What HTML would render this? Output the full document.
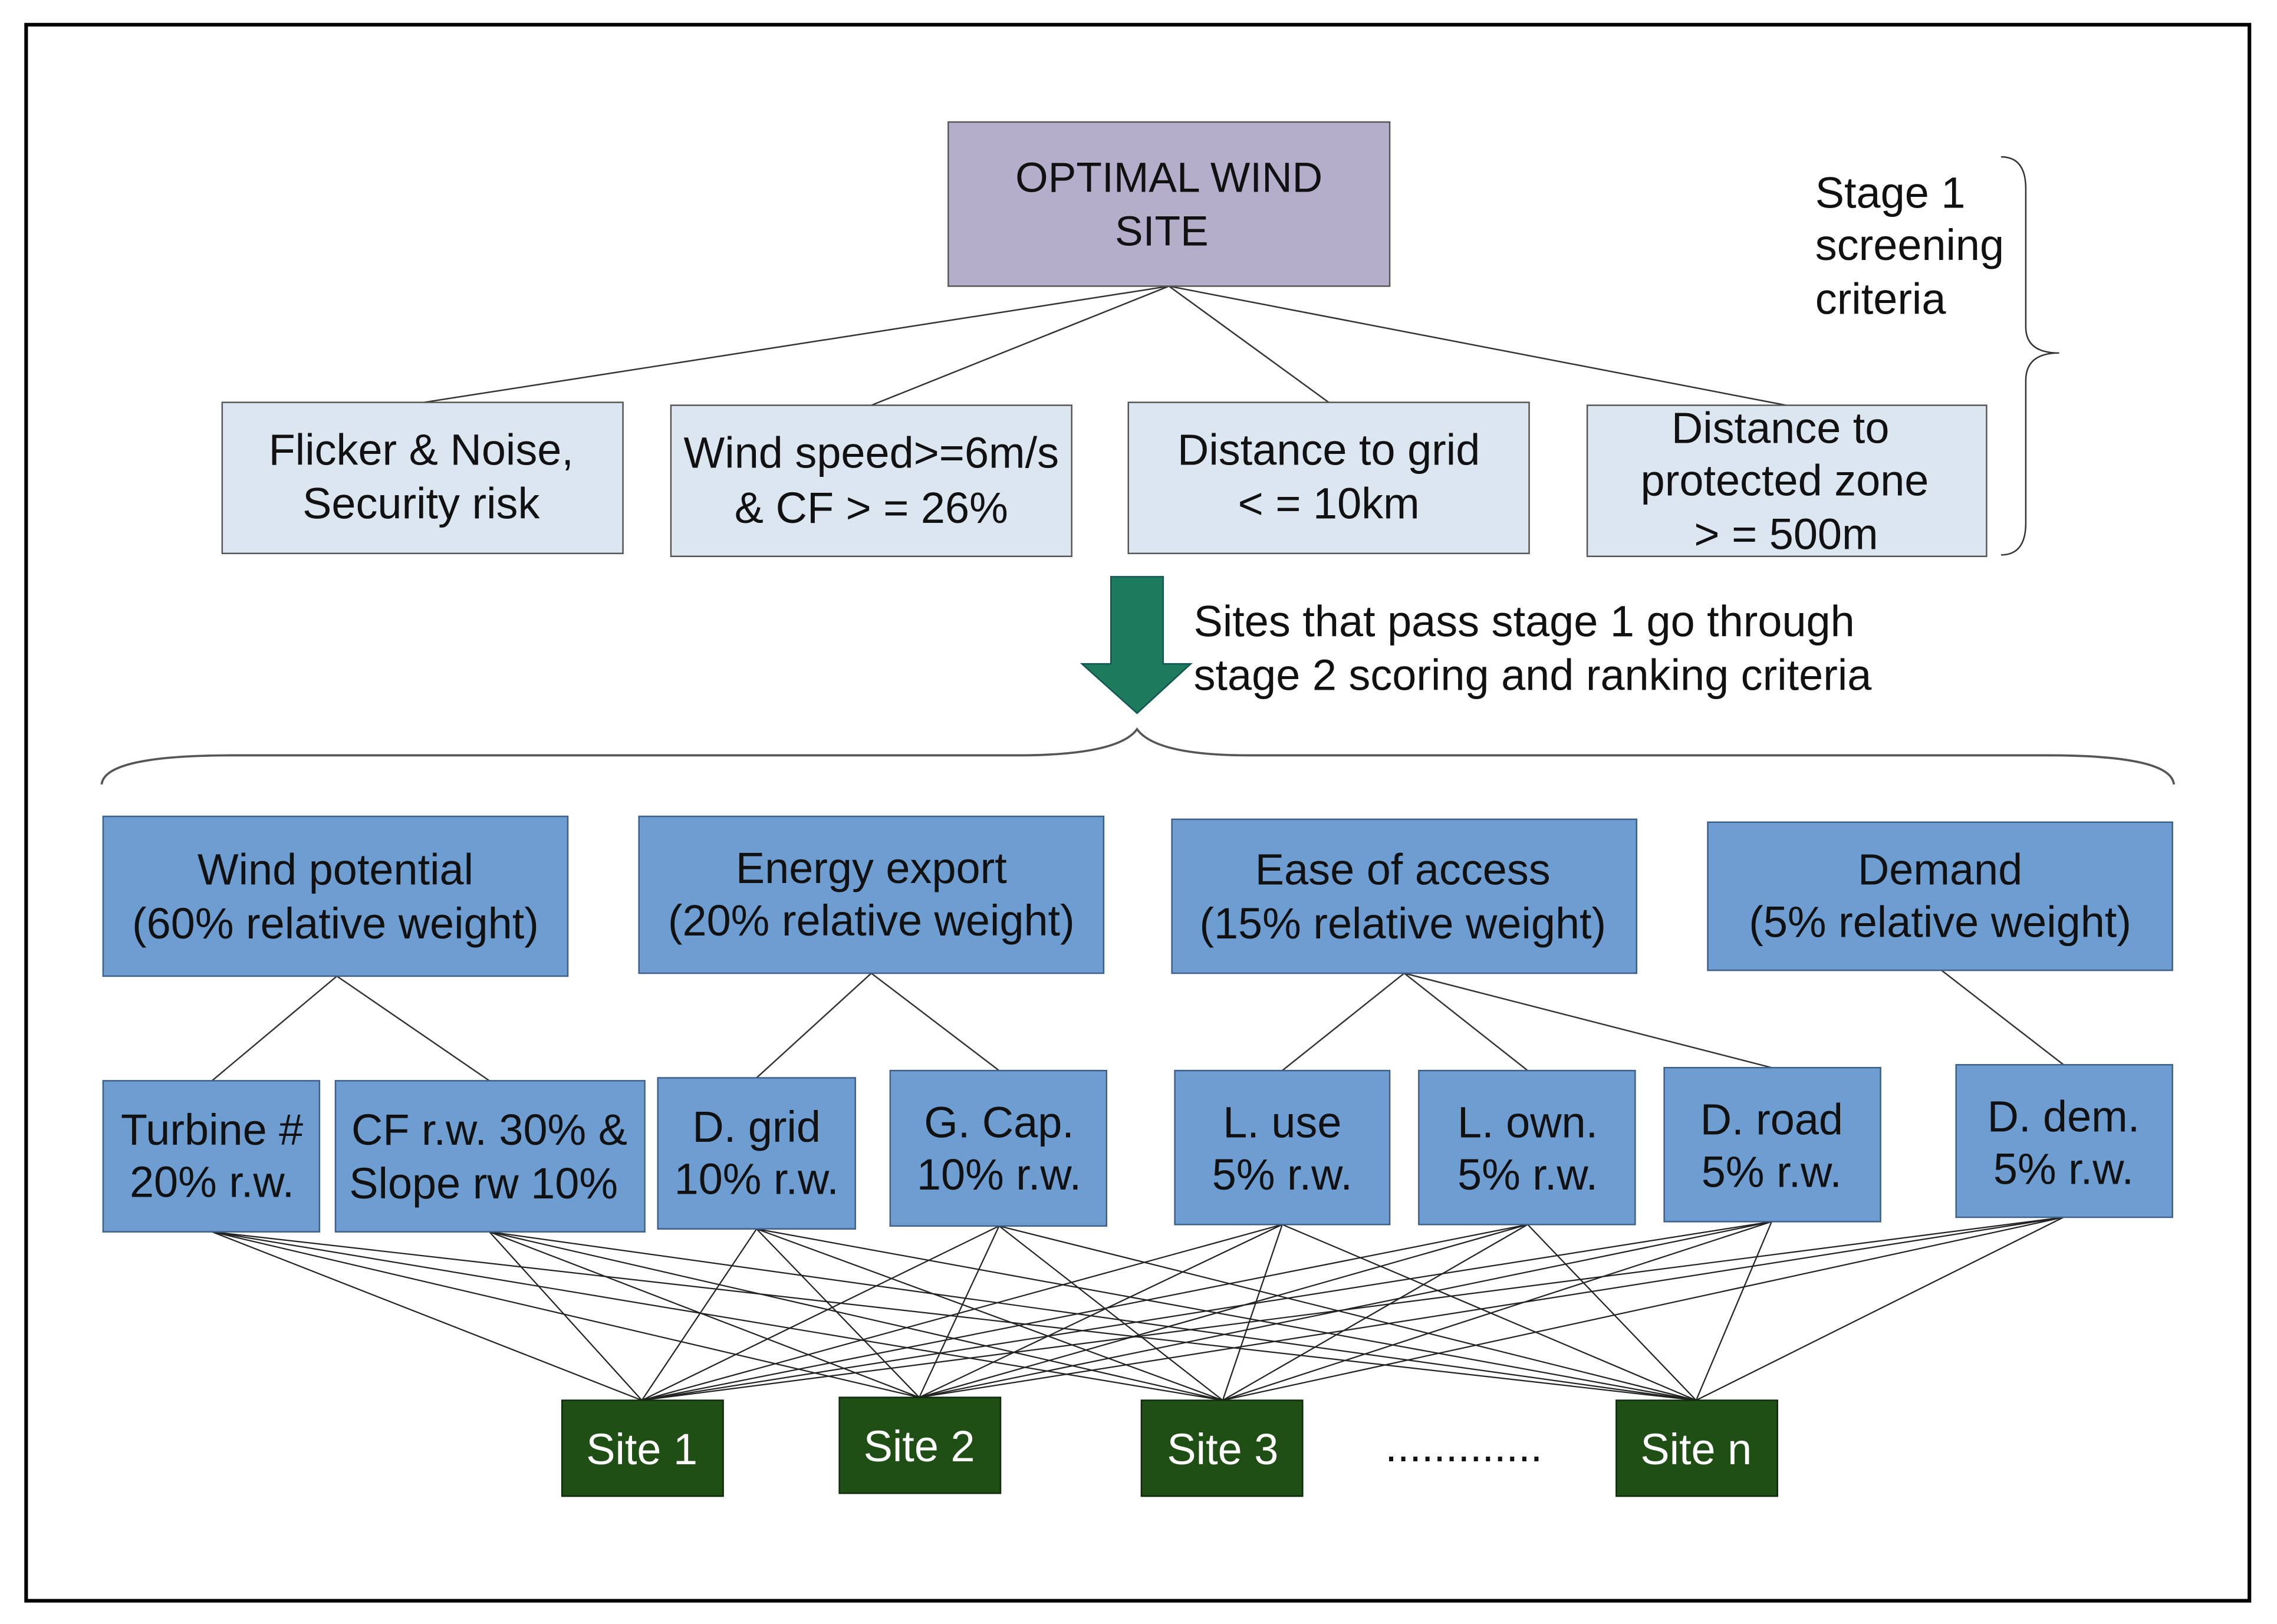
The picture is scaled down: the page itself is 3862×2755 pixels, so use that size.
<!DOCTYPE html>
<html><head><style>html,body{margin:0;padding:0;background:#fff}svg{display:block}text{font-family:"Liberation Sans",Arial,sans-serif}</style></head>
<body>
<svg width="3862" height="2755" viewBox="0 0 1568 1118" preserveAspectRatio="none" xmlns="http://www.w3.org/2000/svg">
<rect x="0" y="0" width="1568" height="1118" fill="#fff"/>
<rect x="18" y="17" width="1531" height="1085" fill="none" stroke="#000" stroke-width="2.5"/>
<g stroke="#333" stroke-width="1" fill="none">
<line x1="805" y1="197" x2="292" y2="277"/>
<line x1="805" y1="197" x2="600" y2="279"/>
<line x1="805" y1="197" x2="915" y2="277"/>
<line x1="805" y1="197" x2="1230" y2="279"/>
<line x1="232" y1="672" x2="146" y2="744"/>
<line x1="232" y1="672" x2="337" y2="744"/>
<line x1="600" y1="670" x2="521" y2="742"/>
<line x1="600" y1="670" x2="688" y2="737"/>
<line x1="967" y1="670" x2="883" y2="737"/>
<line x1="967" y1="670" x2="1052" y2="737"/>
<line x1="967" y1="670" x2="1220" y2="735"/>
<line x1="1337" y1="668" x2="1421" y2="733"/>
<path d="M1378 108 Q1395 108 1395 130 L1395 225 Q1395 243 1418 243 Q1395 243 1395 262 L1395 360 Q1395 382 1378 382"/>
<path d="M70 540 Q72 520 160 520 L700 520 Q770 520 783 502 Q796 520 860 520 L1410 520 Q1495 520 1497 540" stroke="#555" stroke-width="1.5"/>
</g>
<g stroke="#222" stroke-width="0.9">
<line x1="146" y1="848" x2="442" y2="964"/><line x1="146" y1="848" x2="633" y2="962"/><line x1="146" y1="848" x2="842" y2="964"/><line x1="146" y1="848" x2="1168" y2="964"/>
<line x1="337" y1="848" x2="442" y2="964"/><line x1="337" y1="848" x2="633" y2="962"/><line x1="337" y1="848" x2="842" y2="964"/><line x1="337" y1="848" x2="1168" y2="964"/>
<line x1="521" y1="846" x2="442" y2="964"/><line x1="521" y1="846" x2="633" y2="962"/><line x1="521" y1="846" x2="842" y2="964"/><line x1="521" y1="846" x2="1168" y2="964"/>
<line x1="688" y1="844" x2="442" y2="964"/><line x1="688" y1="844" x2="633" y2="962"/><line x1="688" y1="844" x2="842" y2="964"/><line x1="688" y1="844" x2="1168" y2="964"/>
<line x1="883" y1="843" x2="442" y2="964"/><line x1="883" y1="843" x2="633" y2="962"/><line x1="883" y1="843" x2="842" y2="964"/><line x1="883" y1="843" x2="1168" y2="964"/>
<line x1="1052" y1="843" x2="442" y2="964"/><line x1="1052" y1="843" x2="633" y2="962"/><line x1="1052" y1="843" x2="842" y2="964"/><line x1="1052" y1="843" x2="1168" y2="964"/>
<line x1="1220" y1="841" x2="442" y2="964"/><line x1="1220" y1="841" x2="633" y2="962"/><line x1="1220" y1="841" x2="842" y2="964"/><line x1="1220" y1="841" x2="1168" y2="964"/>
<line x1="1421" y1="838" x2="442" y2="964"/><line x1="1421" y1="838" x2="633" y2="962"/><line x1="1421" y1="838" x2="842" y2="964"/><line x1="1421" y1="838" x2="1168" y2="964"/>
</g>
<rect x="653" y="84" width="304" height="113" fill="#b5aecb" stroke="#555"/>
<g font-size="29" fill="#111" text-anchor="middle">
<text x="805" y="132">OPTIMAL WIND</text><text x="800" y="169">SITE</text>
</g>
<g fill="#dce6f0" stroke="#555">
<rect x="153" y="277" width="276" height="104"/>
<rect x="462" y="279" width="276" height="104"/>
<rect x="777" y="277" width="276" height="104"/>
<rect x="1093" y="279" width="275" height="104"/>
</g>
<g font-size="30" fill="#111" text-anchor="middle">
<text x="290" y="320">Flicker &amp; Noise,</text><text x="290" y="357">Security risk</text>
<text x="600" y="322">Wind speed&gt;=6m/s</text><text x="600" y="360">&amp; CF &gt; = 26%</text>
<text x="915" y="320">Distance to grid</text><text x="915" y="357">&lt; = 10km</text>
<text x="1226" y="305">Distance to</text><text x="1229" y="341">protected zone</text><text x="1230" y="378">&gt; = 500m</text>
<text x="1250" y="143" text-anchor="start">Stage 1</text><text x="1250" y="179" text-anchor="start">screening</text><text x="1250" y="216" text-anchor="start">criteria</text>
<text x="822" y="438" text-anchor="start">Sites that pass stage 1 go through</text>
<text x="822" y="475" text-anchor="start">stage 2 scoring and ranking criteria</text>
</g>
<polygon points="765,397 801,397 801,457 820,457 783,491 745,457 765,457" fill="#1d7a5c" stroke="#155"/>
<g fill="#6e9dd2" stroke="#3d5f8a">
<rect x="71" y="562" width="320" height="110"/>
<rect x="440" y="562" width="320" height="108"/>
<rect x="807" y="564" width="320" height="106"/>
<rect x="1176" y="566" width="320" height="102"/>
<rect x="71" y="744" width="149" height="104"/>
<rect x="231" y="744" width="213" height="104"/>
<rect x="453" y="742" width="136" height="104"/>
<rect x="613" y="737" width="149" height="107"/>
<rect x="809" y="737" width="148" height="106"/>
<rect x="977" y="737" width="149" height="106"/>
<rect x="1146" y="735" width="149" height="106"/>
<rect x="1347" y="733" width="149" height="105"/>
</g>
<g font-size="30" fill="#111" text-anchor="middle">
<text x="231" y="609">Wind potential</text><text x="231" y="646">(60% relative weight)</text>
<text x="600" y="608">Energy export</text><text x="600" y="644">(20% relative weight)</text>
<text x="966" y="609">Ease of access</text><text x="966" y="646">(15% relative weight)</text>
<text x="1336" y="609">Demand</text><text x="1336" y="645">(5% relative weight)</text>
<text x="146" y="788">Turbine #</text><text x="146" y="824">20% r.w.</text>
<text x="337" y="788">CF r.w. 30% &amp;</text><text x="333" y="825">Slope rw 10%</text>
<text x="521" y="786">D. grid</text><text x="521" y="822">10% r.w.</text>
<text x="688" y="783">G. Cap.</text><text x="688" y="819">10% r.w.</text>
<text x="883" y="783">L. use</text><text x="883" y="819">5% r.w.</text>
<text x="1052" y="783">L. own.</text><text x="1052" y="819">5% r.w.</text>
<text x="1220" y="781">D. road</text><text x="1220" y="817">5% r.w.</text>
<text x="1421" y="779">D. dem.</text><text x="1421" y="815">5% r.w.</text>
</g>
<g fill="#1f4f14" stroke="#0f2a0a">
<rect x="387" y="964" width="111" height="66"/>
<rect x="578" y="962" width="111" height="66"/>
<rect x="786" y="964" width="111" height="66"/>
<rect x="1113" y="964" width="111" height="66"/>
</g>
<g font-size="30" fill="#fff" text-anchor="middle">
<text x="442" y="1008">Site 1</text><text x="633" y="1006">Site 2</text><text x="842" y="1008">Site 3</text><text x="1168" y="1008">Site n</text>
</g>
<text x="1008" y="1006" font-size="30" fill="#111" text-anchor="middle">.............</text>
</svg>
</body></html>
